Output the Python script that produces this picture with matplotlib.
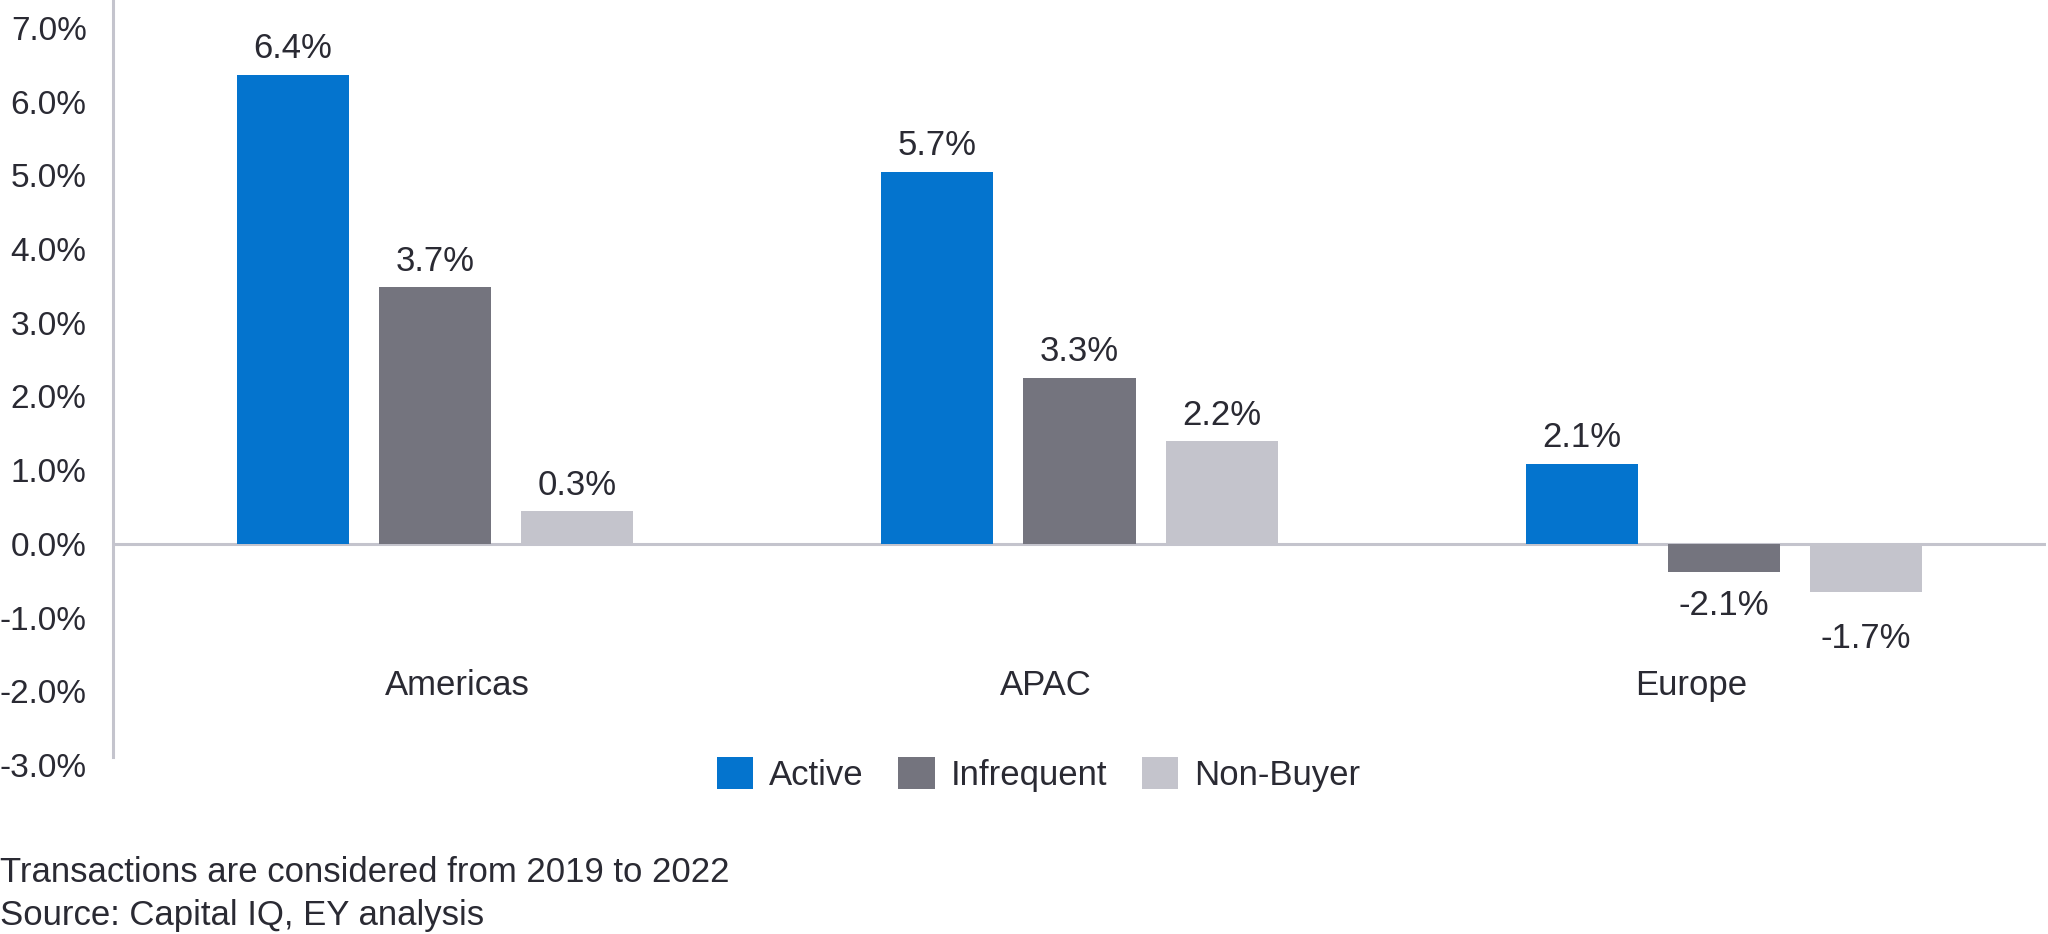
import numpy as np
import matplotlib
matplotlib.use("Agg")
import matplotlib.pyplot as plt

# data
regions = ["Americas", "APAC", "Europe"]
series = ["Active", "Infrequent", "Non-Buyer"]
active = [6.36, 5.05, 1.08]
infrequent = [3.48, 2.25, -0.38]
non_buyer = [0.44, 1.39, -0.65]
active_labels = ["6.4%", "5.7%", "2.1%"]
infrequent_labels = ["3.7%", "3.3%", "-2.1%"]
non_buyer_labels = ["0.3%", "2.2%", "-1.7%"]
yticks = [-3, -2, -1, 0, 1, 2, 3, 4, 5, 6, 7]
notes = ["Transactions are considered from 2019 to 2022",
         "Source: Capital IQ, EY analysis"]

colors = ["#0474ce", "#74747e", "#c4c4cc"]
grey_line = "#c4c4cd"
txt = "#2a2a33"
fs = 25

plt.rcParams['font.family'] = ['Liberation Sans', 'DejaVu Sans']

fig = plt.figure(figsize=(20.48, 9.34), dpi=100)
ax = fig.add_axes([0.0552, 0.181, 0.9438, 0.819])

x = np.arange(len(regions))
width = 0.174
step = 0.2205
values = [active, infrequent, non_buyer]
labels = [active_labels, infrequent_labels, non_buyer_labels]
neg_offset = [-24, -24, -34]

for i, (vals, labs) in enumerate(zip(values, labels)):
    pos = x + (i - 1) * step
    ax.bar(pos, vals, width, color=colors[i], label=series[i], zorder=2)
    for px, v, lab in zip(pos, vals, labs):
        off = 19 if v >= 0 else neg_offset[i]
        ax.annotate(lab, (px, v), xytext=(0, off), textcoords="offset points",
                    ha="center", va="center", fontsize=fs, color=txt)

ax.axhline(0, color=grey_line, lw=2.2, zorder=1)

# category names sit low, not quite centred on their groups
name_shift = [0.034, -0.053, -0.051]
for xi, name, s in zip(x, regions, name_shift):
    ax.text(xi + s, -1.92, name, ha="center", va="center", fontsize=fs, color=txt)

ax.set_xlim(-0.5, 2.5)
ax.set_ylim(-3, 7.38)
ax.set_yticks(yticks)
ax.set_yticklabels([f"{t:.1f}%" for t in yticks])
ax.tick_params(axis="y", length=0, pad=19, labelsize=24, labelcolor=txt)
ax.set_xticks([])

for s in ["top", "right", "bottom"]:
    ax.spines[s].set_visible(False)
ax.spines["left"].set_color(grey_line)
ax.spines["left"].set_linewidth(2.2)
ax.spines["left"].set_bounds(-2.89, 7.38)

fig.legend(loc="center", bbox_to_anchor=(0.507, 0.171), ncol=3, frameon=False,
           fontsize=fs, handlelength=1.05, handleheight=1.05, handletextpad=0.45,
           columnspacing=1.0, labelcolor=txt)

fig.text(0.0, 1 - 872 / 934, notes[0], ha="left", va="center", fontsize=fs, color=txt)
fig.text(0.0, 1 - 915 / 934, notes[1], ha="left", va="center", fontsize=fs, color=txt)

fig.savefig("out.png", dpi=100)
